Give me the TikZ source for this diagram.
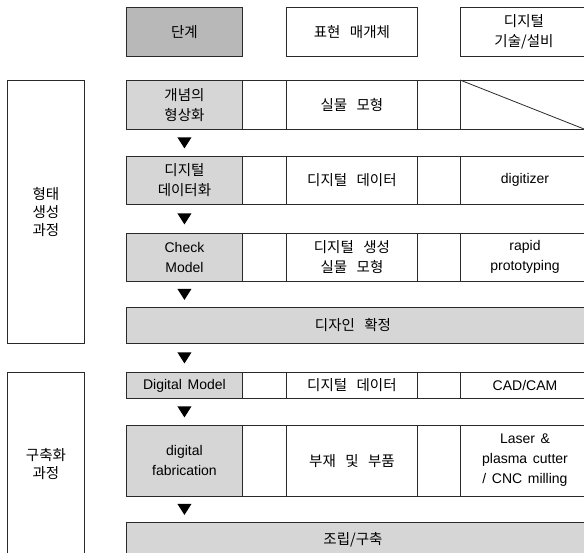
\documentclass[tikz,border=0pt]{standalone}
\usepackage{fontspec}
\setmainfont{Liberation Sans}
\newfontfamily\kr{Noto Sans CJK KR}
\usetikzlibrary{calc}
\definecolor{hdrgray}{HTML}{B8B8B8}
\definecolor{rowgray}{HTML}{D6D6D6}
\definecolor{bordercol}{HTML}{2A2A2A}
\DeclareRobustCommand{\krtext}{\kr\fontsize{14.5}{20}\selectfont\setlength{\spaceskip}{0.65em}}
\DeclareRobustCommand{\krleft}{\kr\fontsize{14.5}{18}\selectfont}
\DeclareRobustCommand{\latext}{\fontsize{14}{20}\selectfont\setlength{\spaceskip}{0.4em}}
\tikzset{
  cellbox/.style={draw=bordercol, line width=0.9pt, inner sep=0pt, anchor=north west, align=center},
  hdr/.style={cellbox, fill=hdrgray},
  stage/.style={cellbox, fill=rowgray},
  kf/.style={font=\krtext},
  kfl/.style={font=\krleft},
  lf/.style={font=\latext},
  tri/.style={fill=black},
}
\newcommand{\downtri}[1]{\fill[tri] ($(#1)+(-7,-5.5)$) -- ($(#1)+(7,-5.5)$) -- ($(#1)+(0,5.5)$) -- cycle;}
\begin{document}
\begin{tikzpicture}[x=1pt,y=-1pt]
\clip (0,0) rectangle (584,552);
\fill[white] (0,0) rectangle (584,552);

% header
\node[hdr, kf, minimum width=116, minimum height=49] (h1) at (126,7) {단계};
\node[cellbox, kf, minimum width=131, minimum height=49] (h2) at (286,7) {표현 매개체};
\node[cellbox, minimum width=130, minimum height=49] (h3) at (460,7) {};
\node[kf, align=center] at ($(h3.north west)+(64,24.5)$) {디지털\\기술/설비};

% left group boxes
\node[cellbox, kfl, minimum width=77, minimum height=263] (L1) at (7,80) {형태\\생성\\과정};
\node[cellbox, kfl, minimum width=77, minimum height=184] (L2) at (7,372) {구축화\\과정};

% row 1
\node[stage, kf, minimum width=116, minimum height=49] (r1a) at (126,80) {개념의\\형상화};
\node[cellbox, minimum width=44, minimum height=49] (r1b) at (242,80) {};
\node[cellbox, kf, minimum width=131, minimum height=49] (r1c) at (286,80) {실물 모형};
\node[cellbox, minimum width=43, minimum height=49] (r1d) at (417,80) {};
\node[cellbox, minimum width=130, minimum height=49] (r1e) at (460,80) {};
\coordinate (diagend) at (584,129);
\draw[bordercol, line width=0.8pt] (r1e.north west) -- (diagend);

% row 2
\node[stage, kf, minimum width=116, minimum height=48] (r2a) at (126,156) {디지털\\데이터화};
\node[cellbox, minimum width=44, minimum height=48] (r2b) at (242,156) {};
\node[cellbox, kf, minimum width=131, minimum height=48] (r2c) at (286,156) {디지털 데이터};
\node[cellbox, minimum width=43, minimum height=48] (r2d) at (417,156) {};
\node[cellbox, minimum width=130, minimum height=48] (r2e) at (460,156) {};
\node[lf] at ($(r2e.north west)+(65,24)$) {digitizer};

% row 3
\node[stage, lf, minimum width=116, minimum height=48] (r3a) at (126,233) {Check\\Model};
\node[cellbox, minimum width=44, minimum height=48] (r3b) at (242,233) {};
\node[cellbox, kf, minimum width=131, minimum height=48] (r3c) at (286,233) {디지털 생성\\실물 모형};
\node[cellbox, minimum width=43, minimum height=48] (r3d) at (417,233) {};
\node[cellbox, minimum width=130, minimum height=48] (r3e) at (460,233) {};
\node[lf, align=center] at ($(r3e.north west)+(65,24)$) {rapid\\prototyping};

% row 4
\node[stage, minimum width=464, minimum height=36] (r4) at (126,307) {};
\node[kf] at ($(r4.north west)+(227,18)$) {디자인 확정};

% row 5
\node[stage, lf, minimum width=116, minimum height=26] (r5a) at (126,372) {Digital Model};
\node[cellbox, minimum width=44, minimum height=26] (r5b) at (242,372) {};
\node[cellbox, kf, minimum width=131, minimum height=26] (r5c) at (286,372) {디지털 데이터};
\node[cellbox, minimum width=43, minimum height=26] (r5d) at (417,372) {};
\node[cellbox, minimum width=130, minimum height=26] (r5e) at (460,372) {};
\node[lf] at ($(r5e.north west)+(65,13)$) {CAD/CAM};

% row 6
\node[stage, lf, minimum width=116, minimum height=71] (r6a) at (126,425) {digital\\fabrication};
\node[cellbox, minimum width=44, minimum height=71] (r6b) at (242,425) {};
\node[cellbox, kf, minimum width=131, minimum height=71] (r6c) at (286,425) {부재 및 부품};
\node[cellbox, minimum width=43, minimum height=71] (r6d) at (417,425) {};
\node[cellbox, minimum width=130, minimum height=71] (r6e) at (460,425) {};
\node[lf, align=center] at ($(r6e.north west)+(65,35.5)$) {Laser \&\\plasma cutter\\/ CNC milling};

% row 7
\node[stage, minimum width=464, minimum height=36] (r7) at (126,522) {};
\node[kf] at ($(r7.north west)+(227,18)$) {조립/구축};

% arrows
\coordinate (a1) at ($(r1a.south)!0.5!(r2a.north)$);
\coordinate (a2) at ($(r2a.south)!0.5!(r3a.north)$);
\coordinate (a3) at ($(r3a.south)!0.5!(r3a.south |- r4.north)$);
\coordinate (a4) at ($(r3a.south |- r4.south)!0.5!(r5a.north)$);
\coordinate (a5) at ($(r5a.south)!0.5!(r6a.north)$);
\coordinate (a6) at ($(r6a.south)!0.5!(r6a.south |- r7.north)$);
\downtri{a1}
\downtri{a2}
\downtri{a3}
\downtri{a4}
\downtri{a5}
\downtri{a6}
\end{tikzpicture}
\end{document}
